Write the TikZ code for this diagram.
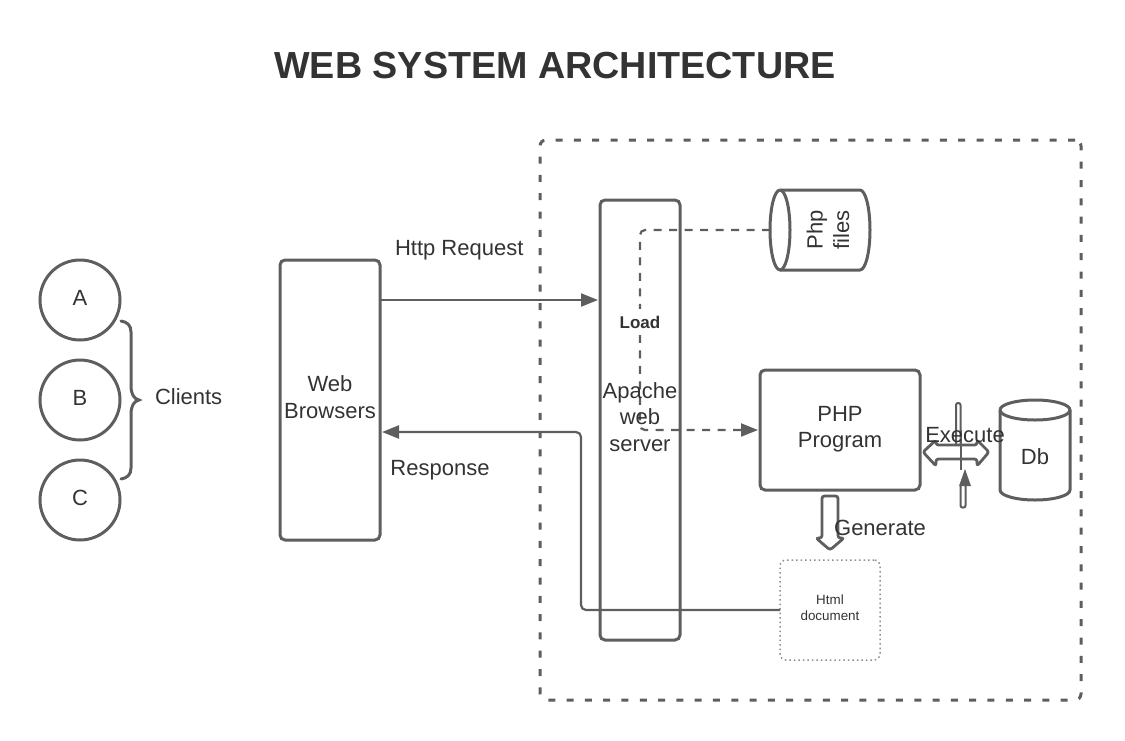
\documentclass[tikz,border=0pt]{standalone}
\usepackage{fontspec}
\setmainfont{Liberation Sans}
\usetikzlibrary{arrows.meta}
\definecolor{ln}{HTML}{5E5E5E}
\definecolor{tx}{HTML}{333333}
\tikzset{
  x=1pt,y=-1pt,
  every node/.style={inner sep=0pt,outer sep=0pt,text=tx,font=\fontsize{22}{26.5}\selectfont,align=center},
  boxn/.style={draw=ln,line width=3pt,rounded corners=5pt},
  client/.style={draw=ln,line width=3pt,circle,minimum size=80pt},
  cylbox/.style={rectangle},
  cylline/.style={draw=ln,line width=3pt,line join=round},
  conn/.style={draw=ln,line width=2.2pt,rounded corners=5pt},
  tip/.style={-{Triangle[length=17pt,width=13pt,color=ln]},shorten >=2pt},
  dashc/.style={conn,dash pattern=on 8pt off 7.5pt},
  outline/.style={draw=ln,line width=2.8pt,rounded corners=2.5pt,line join=round},
}
\begin{document}
\begin{tikzpicture}
\useasboundingbox (0,0) rectangle (1125,740);
% title
\node[font=\fontsize{37.7}{44}\bfseries\selectfont] (title) at (555,66) {WEB SYSTEM ARCHITECTURE};
% outer dashed frame
\node[draw=ln,line width=3pt,rounded corners=6pt,dash pattern=on 7pt off 11.3pt,minimum width=541pt,minimum height=560pt] (frame) at (810.5,420) {};
% clients
\node[client] (a) at (80,300) {\raisebox{4pt}{A}};
\node[client] (b) at (80,400) {\raisebox{4pt}{B}};
\node[client] (c) at (80,500) {\raisebox{4pt}{C}};
\draw[draw=ln,line width=3pt,line cap=round] (121,321) .. controls (127,322) and (131,325) .. (131,332) -- (131,386) .. controls (131,394) and (134,399) .. (139,400) .. controls (134,401) and (131,406) .. (131,414) -- (131,468) .. controls (131,475) and (127,478) .. (121,479);
\node[anchor=west] (clients) at (155,397) {Clients};
% main boxes
\node[boxn,minimum width=100pt,minimum height=280pt] (browser) at (330,400) {};
\node (browsertext) at (330,397) {Web\\Browsers};
\node[boxn,minimum width=80pt,minimum height=440pt] (apache) at (640,420) {};
\node[boxn,minimum width=160pt,minimum height=120pt] (php) at (840,430) {};
\node (phptext) at (840,429) {PHP\\Program};
% php files cylinder
\node[cylbox,minimum width=100pt,minimum height=80pt] (files) at (820,230) {};
\draw[cylline] (780,190) -- (860,190) arc[start angle=90,end angle=-90,x radius=10pt,y radius=40pt] -- (780,270);
\draw[cylline] (780,190) arc[start angle=90,end angle=450,x radius=10pt,y radius=40pt];
\node[rotate=90] (filestext) at (828,230) {Php\\files};
% db cylinder
\node[cylbox,minimum width=70pt,minimum height=100pt] (db) at (1035,450) {};
\draw[cylline] (1000,410) -- (1000,490) arc[start angle=180,end angle=360,x radius=35pt,y radius=10pt] -- (1070,410);
\draw[cylline] (1000,410) arc[start angle=180,end angle=540,x radius=35pt,y radius=10pt];
\node (dbtext) at (1035,457) {Db};
\node[draw=ln!70,line width=1.5pt,rounded corners=6pt,dash pattern=on 1.5pt off 3pt,minimum size=100pt] (html) at (830,610) {};
\node[font=\fontsize{13.4}{16.5}\selectfont] (htmltext) at (830,607.5) {Html\\document};
% connectors
\draw[conn,tip] ([yshift=100pt]browser.east) -- node[pos=0.36,above=40pt]{Http Request} ([yshift=120pt]apache.west);
\draw[conn,tip] (html.west) -- (581,610) -- (581,432) -- ([yshift=-32pt]browser.east);
\node (resp) at (440,470) {Response};
\draw[dashc,tip] (files.west) -- (640,230) -- (640,430) -- (php.west);
\node[fill=white,font=\fontsize{17}{20}\bfseries\selectfont,minimum height=26pt] (load) at (640,322) {Load};
\node (apachetext) at (640,417) {Apache\\web\\server};
% generate arrow
\draw[outline,fill=white] (822,538) -- (822,496) -- (838,496) -- (838,538) -- (844,538) -- (830,550) -- (816,538) -- cycle;
\node (generate) at (880,528) {Generate};
% execute
\draw[draw=ln,line width=2pt,rounded corners=2pt,fill=white] (956,450) -- (956,403) -- (960.5,403) -- (960.5,450);
\draw[outline,fill=white] (936,445) -- (977,445) -- (977,440) -- (989,452) -- (977,466) -- (977,459) -- (936,459) -- (936,466) -- (923,452) -- (936,440) -- cycle;
\draw[draw=ln,line width=2pt] (960.5,430) -- (960.5,470);
\draw[draw=ln,line width=2pt,rounded corners=2pt] (960.5,486) -- (960.5,507.5) -- (965.5,507.5) -- (965.5,486);
\fill[ln] (965,469) -- (971,486) -- (959,486) -- cycle;
\node (execute) at (965,435) {Execute};
\end{tikzpicture}
\end{document}
